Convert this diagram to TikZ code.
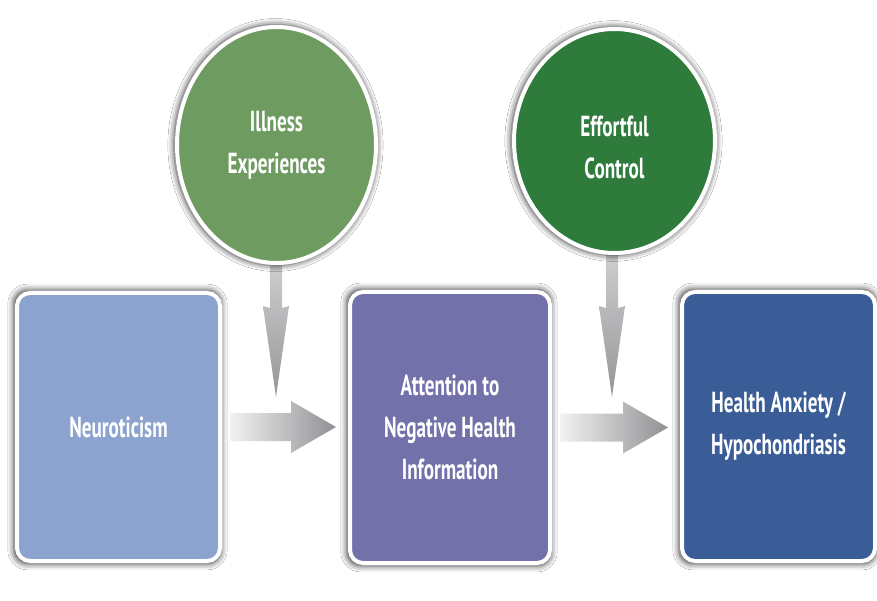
\documentclass[tikz,border=0pt]{standalone}
\usepackage{fontspec}
\newfontfamily\lblfont{PT Sans}[FakeStretch=0.66]
\usetikzlibrary{calc,shapes.geometric,shadows.blur}
\definecolor{boxA}{HTML}{8DA3CF}
\definecolor{boxB}{HTML}{7371A9}
\definecolor{boxC}{HTML}{3B5D97}
\definecolor{cirA}{HTML}{6E9B60}
\definecolor{cirB}{HTML}{2E7B3C}
\definecolor{arrLight}{HTML}{F2F2F2}
\definecolor{arrDark}{HTML}{909094}
\definecolor{varTop}{HTML}{CDCDCF}
\definecolor{varBot}{HTML}{96969A}
\pgfdeclarelayer{background}
\pgfsetlayers{background,main}
\tikzset{
  lbl/.style={text=white, align=center, font=\lblfont\bfseries\fontsize{29}{42}\selectfont},
  halo/.style={blur shadow={shadow xshift=-1pt, shadow yshift=0pt, shadow blur radius=6pt, shadow opacity=80, shadow scale=1.02}},
  stagebox/.style={lbl, halo, rectangle, rounded corners=13pt, draw=white, line width=4pt},
  factor/.style={lbl, halo, ellipse, draw=white, line width=4pt, inner sep=0pt},
}
\begin{document}
\begin{tikzpicture}[x=1pt,y=-1pt]
\useasboundingbox (0,0) rectangle (877,601);
% boxes
\node[stagebox, fill=boxA, minimum width=203pt, minimum height=268pt] (n1) at (118.5,427) {Neuroticism};
\node[stagebox, fill=boxB, minimum width=200pt, minimum height=271pt] (n2) at (450,427.5) {Attention to\\Negative Health\\Information};
\node[stagebox, fill=boxC, minimum width=193pt, minimum height=269pt] (n3) at (778.5,426.5) {Health Anxiety /\\Hypochondriasis};
% circles
\node[factor, fill=cirA, minimum width=199pt, minimum height=236pt] (c1) at (276.5,145) {Illness\\Experiences};
\node[factor, fill=cirB, minimum width=201pt, minimum height=224pt] (c2) at (614.5,141) {\raisebox{-8pt}[\height][\depth]{\begin{tabular}{@{}c@{}}Effortful\\Control\end{tabular}}};
% free ends of the vertical arrows
\coordinate (t1) at (276,397);
\coordinate (t2) at (612,397);
\begin{pgfonlayer}{background}
\fill[white] (0,0) rectangle (877,601);
% horizontal arrows
\foreach \a/\b in {n1/n2, n2/n3}{
  \shade[left color=arrLight, right color=arrDark]
    let \p1=($(\a.east)+(8,0)$), \p2=($(\b.west)+(-12,0)$) in
    (\x1,{\y1+14pt}) -- ({\x2-45pt},{\y1+14pt}) -- ({\x2-45pt},{\y1+26pt}) --
    (\x2,\y1) -- ({\x2-45pt},{\y1-26pt}) -- ({\x2-45pt},{\y1-14pt}) --
    (\x1,{\y1-14pt}) -- cycle;
}
% vertical arrows
\foreach \c/\t in {c1/t1, c2/t2}{
  \shade[top color=varTop, bottom color=varBot]
    let \p1=(\c.south), \p2=(\t) in
    ({\x2-6pt},\y1) -- ({\x2+6pt},\y1) -- ({\x2+6pt},{\y2+89pt}) --
    ({\x2+13pt},{\y2+91pt}) -- (\x2,\y2) -- ({\x2-13pt},{\y2+91pt}) --
    ({\x2-6pt},{\y2+89pt}) -- cycle;
}
\end{pgfonlayer}
\end{tikzpicture}
\end{document}
